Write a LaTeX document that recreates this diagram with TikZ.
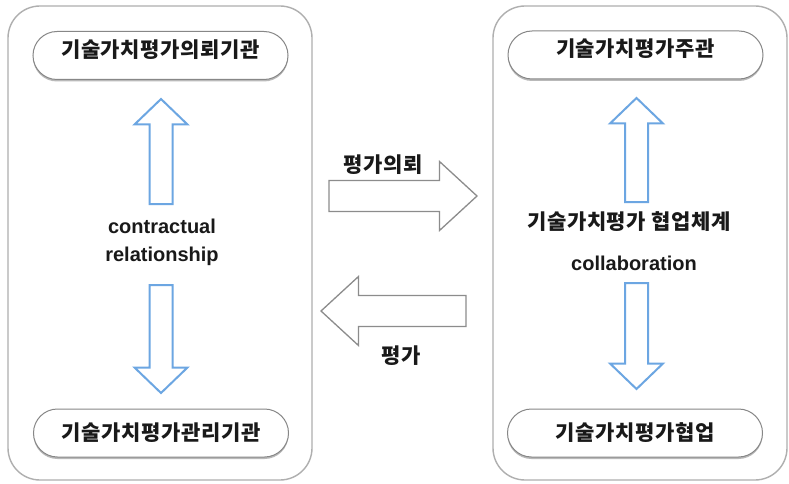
\documentclass[tikz,border=0pt]{standalone}
\usepackage{fontspec}
\setmainfont{Liberation Sans}
\newfontfamily\krfont{Noto Sans CJK KR}[LetterSpace=3]
\usetikzlibrary{calc,shadows}
\definecolor{arrowblue}{RGB}{108,166,226}
\definecolor{panelgray}{RGB}{175,175,175}
\definecolor{pillgray}{RGB}{135,135,135}
\definecolor{arrowgray}{RGB}{140,140,140}
\tikzset{
  blockarrow/.style n args={3}{to path={
    ($(\tikztotarget)!#3!(\tikztostart)$) coordinate (hb)
    ($(\tikztostart)!#1!90:(\tikztotarget)$)
    -- ($(hb)!#1!90:(\tikztotarget)$)
    -- ($(hb)!#2!90:(\tikztotarget)$)
    -- (\tikztotarget)
    -- ($(hb)!#2!-90:(\tikztotarget)$)
    -- ($(hb)!#1!-90:(\tikztotarget)$)
    -- ($(\tikztostart)!#1!-90:(\tikztotarget)$)
    -- cycle}}
}

\begin{document}
\begin{tikzpicture}[x=1pt,y=-1pt,
  panel/.style={draw=panelgray,line width=1.4pt,fill=white,rounded corners=32pt,minimum width=#1,minimum height=474pt},
  pill/.style={draw=pillgray,line width=1pt,fill=white,rounded corners=24pt,minimum width=255pt,minimum height=48pt,inner sep=0pt,
    drop shadow={shadow xshift=0pt,shadow yshift=-2pt,fill=gray!55,opacity=1}},
  kr/.style={font=\krfont\bfseries\fontsize{21}{24}\selectfont,text=black!90},
  en/.style={font=\bfseries\fontsize{20}{28}\selectfont,text=black!90,align=center},
  raised/.style={text height=14pt,text depth=10pt},
  bluearrow/.style={draw=arrowblue,line width=2pt,blockarrow={11.5pt}{26.5pt}{25.5pt}},
  grayarrow/.style={draw=arrowgray,line width=1.3pt,fill=white,blockarrow={15.5pt}{34.5pt}{37.5pt}}]
  \fill[white] (0,0) rectangle (789,484);
  \useasboundingbox (0,0) rectangle (789,484);

  \node [panel=304pt] (leftpanel) at (160,243) {};
  \node [panel=294pt] (rightpanel) at (640,243) {};

  \node [pill,kr,raised] (reqorg) at (160.5,55.5) {기술가치평가의뢰기관};
  \node [pill,kr] (mgmtorg) at (161,433) {기술가치평가관리기관};
  \node [pill,kr,raised] (hostorg) at (635.5,55) {기술가치평가주관};
  \node [pill,kr] (cooporg) at (635,433) {기술가치평가협업};

  \node [en] (contract) at (162,242) {contractual\\relationship};
  \node [kr,align=center] (collabsys) at (629,222) {기술가치평가 협업체계};
  \node [en] (collabeng) at (634,263) {collaboration};

  \node [kr] (reqlabel) at (383,165) {평가의뢰};
  \node [kr] (evallabel) at (401,356) {평가};

  \coordinate (contractTop) at (161,204);
  \coordinate (reqTip) at (161,99);
  \coordinate (contractBot) at (161,285);
  \coordinate (mgmtTip) at (161,393);
  \coordinate (collabTop) at (636.5,202);
  \coordinate (hostTip) at (636.5,98);
  \coordinate (collabBot) at (636.5,283);
  \coordinate (coopTip) at (636.5,389);
  \coordinate (reqTail) at (329,196);
  \coordinate (reqHead) at (477,196);
  \coordinate (evalTail) at (466,311);
  \coordinate (evalHead) at (321,311);

  \path (contractTop) edge[bluearrow] (reqTip);
  \path (contractBot) edge[bluearrow] (mgmtTip);
  \path (collabTop) edge[bluearrow] (hostTip);
  \path (collabBot) edge[bluearrow] (coopTip);
  \path (reqTail) edge[grayarrow] (reqHead);
  \path (evalTail) edge[grayarrow] (evalHead);
\end{tikzpicture}
\end{document}
